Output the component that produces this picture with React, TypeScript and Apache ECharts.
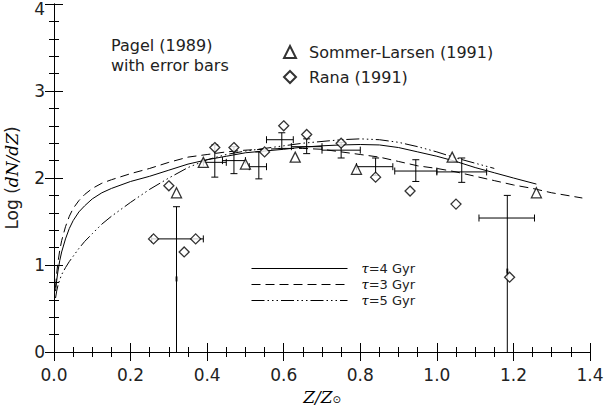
import React, { useEffect, useRef } from "react";
import * as echarts from "echarts";

// ---- data ----
const tau4X = [0.004, 0.007, 0.01, 0.015, 0.02, 0.03, 0.04, 0.05, 0.065, 0.08, 0.1, 0.125, 0.15, 0.2, 0.25, 0.3, 0.35, 0.4, 0.45, 0.5, 0.55, 0.6, 0.65, 0.7, 0.75, 0.8, 0.85, 0.9, 0.95, 1.0, 1.05, 1.1, 1.15, 1.2, 1.26];
const tau4Y = [0.7, 0.82, 0.92, 1.05, 1.15, 1.3, 1.42, 1.51, 1.61, 1.68, 1.76, 1.83, 1.88, 1.96, 2.02, 2.09, 2.16, 2.21, 2.25, 2.29, 2.31, 2.33, 2.355, 2.37, 2.38, 2.385, 2.38, 2.35, 2.3, 2.25, 2.19, 2.12, 2.06, 2.0, 1.93];

const tau3X = [0.004, 0.007, 0.01, 0.015, 0.02, 0.03, 0.04, 0.05, 0.065, 0.08, 0.1, 0.125, 0.15, 0.2, 0.25, 0.3, 0.35, 0.4, 0.45, 0.5, 0.55, 0.6, 0.65, 0.7, 0.75, 0.8, 0.85, 0.9, 0.95, 1.0, 1.05, 1.1, 1.15, 1.2, 1.25, 1.3, 1.38];
const tau3Y = [0.74, 0.9, 1.02, 1.17, 1.28, 1.44, 1.56, 1.65, 1.74, 1.81, 1.88, 1.94, 1.98, 2.05, 2.11, 2.18, 2.24, 2.27, 2.3, 2.32, 2.33, 2.34, 2.34, 2.33, 2.3, 2.27, 2.24, 2.19, 2.14, 2.11, 2.07, 2.02, 1.97, 1.92, 1.88, 1.83, 1.77];

const tau5X = [0.004, 0.007, 0.01, 0.015, 0.02, 0.03, 0.04, 0.05, 0.065, 0.08, 0.1, 0.125, 0.15, 0.2, 0.25, 0.3, 0.35, 0.4, 0.45, 0.5, 0.55, 0.6, 0.65, 0.7, 0.75, 0.8, 0.85, 0.9, 0.95, 1.0, 1.05, 1.1, 1.15];
const tau5Y = [0.62, 0.7, 0.76, 0.83, 0.89, 0.97, 1.04, 1.1, 1.19, 1.27, 1.36, 1.47, 1.56, 1.72, 1.87, 2.0, 2.12, 2.21, 2.27, 2.31, 2.34, 2.37, 2.4, 2.42, 2.44, 2.45, 2.44, 2.41, 2.36, 2.3, 2.23, 2.17, 2.11];

const sommerX = [0.32, 0.39, 0.5, 0.63, 0.79, 1.04, 1.26];
const sommerY = [1.83, 2.18, 2.16, 2.24, 2.1, 2.24, 1.83];

const ranaX = [0.26, 0.3, 0.34, 0.37, 0.42, 0.47, 0.55, 0.6, 0.66, 0.75, 0.84, 0.93, 1.05, 1.19];
const ranaY = [1.3, 1.91, 1.15, 1.3, 2.35, 2.35, 2.3, 2.6, 2.5, 2.4, 2.01, 1.85, 1.7, 0.86];

// Pagel (1989) with error bars
const pagelX = [0.32, 0.42, 0.47, 0.535, 0.595, 0.66, 0.75, 0.84, 0.945, 1.065, 1.184];
const pagelY = [1.3, 2.18, 2.2, 2.13, 2.44, 2.36, 2.32, 2.13, 2.08, 2.07, 1.54];
const pagelXLo = [0.255, 0.39, 0.44, 0.51, 0.555, 0.62, 0.7, 0.79, 0.89, 1.0, 1.11];
const pagelXHi = [0.39, 0.45, 0.5, 0.555, 0.625, 0.7, 0.8, 0.885, 1.0, 1.13, 1.255];
const pagelYLo = [0, 2.01, 2.05, 1.99, 2.34, 2.28, 2.23, 2.03, 1.96, 1.95, 0];
const pagelYHi = [1.67, 2.38, 2.36, 2.3, 2.52, 2.45, 2.41, 2.23, 2.21, 2.23, 1.8];
const pagelDotX = [0.32, 1.184];
const pagelDotY = [0.84, 0.93];

const xTicks = ["0.0", "0.2", "0.4", "0.6", "0.8", "1.0", "1.2", "1.4"];
const yTicks = ["0", "1", "2", "3", "4"];

const tauNames = ["τ=4 Gyr", "τ=3 Gyr", "τ=5 Gyr"];
const pointNames = ["Sommer-Larsen (1991)", "Rana (1991)"];

const FONT = "DejaVu Sans";

const zip = (xs: number[], ys: number[]) => xs.map((x, i) => [x, ys[i]]);

export default function App() {
  const ref = useRef<HTMLDivElement>(null);
  useEffect(() => {
    document.body.style.margin = "0";
    const chart = echarts.init(ref.current!, null, { renderer: "svg" });

    const errData = pagelX.map((x, i) => [x, pagelY[i], pagelXLo[i], pagelXHi[i], pagelYLo[i], pagelYHi[i]]);

    const axisCommon = {
      axisLine: { show: true, lineStyle: { color: "#000", width: 1 } },
      splitLine: { show: false },
    };
    const tick = { show: true, inside: true, length: 9, lineStyle: { color: "#000", width: 1 } };

    const option: any = {
      animation: false,
      backgroundColor: "#fff",
      grid: { left: 54, right: 14, top: 4, bottom: 59, containLabel: false, outerBoundsMode: "none" },
      xAxis: [
        {
          ...axisCommon,
          type: "value",
          min: 0,
          max: 1.4,
          interval: 0.2,
          position: "bottom",
          axisTick: tick,
          minorTick: { show: true, splitNumber: 4, length: 5, lineStyle: { color: "#000", width: 1 } },
          axisLabel: {
            margin: 14,
            fontSize: 17,
            fontFamily: FONT,
            color: "#222",
            formatter: (v: number) => xTicks[Math.round(v / 0.2)] ?? "",
          },
          name: "{i|Z/Z}{s|⊙}",
          nameLocation: "middle",
          nameGap: 36,
          nameTextStyle: {
            rich: {
              i: { fontFamily: "DejaVu Serif", fontStyle: "italic", fontSize: 17, color: "#000" },
              s: { fontFamily: "DejaVu Sans", fontSize: 10, color: "#000", padding: [6, 0, 0, 0] },
            },
          },
        },
        {
          ...axisCommon,
          type: "value",
          min: 0,
          max: 1.4,
          interval: 0.2,
          position: "top",
          axisTick: tick,
          minorTick: { show: true, splitNumber: 4, length: 5, lineStyle: { color: "#000", width: 1 } },
          axisLabel: { show: false },
        },
      ],
      yAxis: [
        {
          ...axisCommon,
          type: "value",
          min: 0,
          max: 4,
          interval: 1,
          position: "left",
          axisTick: tick,
          minorTick: { show: true, splitNumber: 5, length: 5, lineStyle: { color: "#000", width: 1 } },
          axisLabel: {
            margin: 9,
            fontSize: 17,
            fontFamily: FONT,
            color: "#222",
            formatter: (v: number) => {
              const i = Math.round(v);
              return i === 4 ? `{t|${yTicks[i]}}` : yTicks[i] ?? "";
            },
            rich: {
              t: { fontSize: 17, fontFamily: FONT, color: "#222", padding: [10, 0, 0, 0] },
            },
          },
          name: "Log ({i|dN/dZ})",
          nameLocation: "middle",
          nameGap: 34,
          nameRotate: 90,
          nameTextStyle: {
            fontFamily: FONT,
            fontSize: 17,
            color: "#222",
            rich: {
              i: { fontFamily: "DejaVu Serif", fontStyle: "italic", fontSize: 17, color: "#000" },
            },
          },
        },
        {
          ...axisCommon,
          type: "value",
          min: 0,
          max: 4,
          interval: 1,
          position: "right",
          axisTick: tick,
          minorTick: { show: true, splitNumber: 5, length: 5, lineStyle: { color: "#000", width: 1 } },
          axisLabel: { show: false },
        },
      ],
      legend: [
        {
          data: pointNames,
          orient: "vertical",
          left: 278,
          top: 39,
          itemWidth: 12,
          itemHeight: 12,
          itemGap: 9,
          selectedMode: false,
          textStyle: { fontSize: 16, fontFamily: FONT, color: "#222", padding: [0, 0, 0, 8] },
        },
        {
          data: tauNames,
          orient: "vertical",
          left: 246,
          top: 257,
          itemWidth: 96,
          itemHeight: 14,
          itemGap: 3,
          selectedMode: false,
          itemStyle: { opacity: 0 },
          lineStyle: { width: 1, color: "#000" },
          formatter: (n: string) => `{t|τ}{n|${n.slice(1)}}`,
          textStyle: {
            fontSize: 13,
            fontFamily: FONT,
            color: "#222",
            padding: [0, 0, 0, 9],
            rich: {
              t: { fontFamily: "DejaVu Serif", fontStyle: "italic", fontSize: 13, color: "#000" },
              n: { fontFamily: FONT, fontSize: 13, color: "#222" },
            },
          },
        },
      ],
      graphic: [
        {
          type: "text",
          left: 111,
          top: 35,
          style: {
            text: "Pagel (1989)\nwith error bars",
            fontFamily: FONT,
            fontSize: 16,
            lineHeight: 20,
            fill: "#222",
          },
        },
      ],
      series: [
        {
          name: tauNames[0],
          type: "line",
          xAxisIndex: 0,
          yAxisIndex: 0,
          data: zip(tau4X, tau4Y),
          symbol: "none",
          smooth: false,
          itemStyle: { color: "#000" },
          lineStyle: { color: "#000", width: 1, type: "solid" },
        },
        {
          name: tauNames[1],
          type: "line",
          xAxisIndex: 0,
          yAxisIndex: 0,
          data: zip(tau3X, tau3Y),
          symbol: "none",
          smooth: false,
          itemStyle: { color: "#000" },
          lineStyle: { color: "#000", width: 1, type: [9, 5] },
        },
        {
          name: tauNames[2],
          type: "line",
          xAxisIndex: 0,
          yAxisIndex: 0,
          data: zip(tau5X, tau5Y),
          symbol: "none",
          smooth: false,
          itemStyle: { color: "#000" },
          lineStyle: { color: "#000", width: 1, type: [13, 3, 1.5, 3, 1.5, 3, 1.5, 3] },
        },
        {
          name: "Pagel (1989)",
          type: "custom",
          xAxisIndex: 0,
          yAxisIndex: 0,
          data: errData,
          encode: { x: [0, 2, 3], y: [1, 4, 5] },
          renderItem: (params: any, api: any) => {
            const x = api.value(0), y = api.value(1);
            const xlo = api.value(2), xhi = api.value(3);
            const ylo = api.value(4), yhi = api.value(5);
            const pL = api.coord([xlo, y]);
            const pR = api.coord([xhi, y]);
            const pB = api.coord([x, ylo]);
            const pT = api.coord([x, yhi]);
            const c = 3.5;
            const st = { stroke: "#000", lineWidth: 1, fill: "none" };
            const children: any[] = [
              { type: "line", shape: { x1: pL[0], y1: pL[1], x2: pR[0], y2: pR[1] }, style: st },
              { type: "line", shape: { x1: pB[0], y1: pB[1], x2: pT[0], y2: pT[1] }, style: st },
              { type: "line", shape: { x1: pL[0], y1: pL[1] - c, x2: pL[0], y2: pL[1] + c }, style: st },
              { type: "line", shape: { x1: pR[0], y1: pR[1] - c, x2: pR[0], y2: pR[1] + c }, style: st },
              { type: "line", shape: { x1: pT[0] - c, y1: pT[1], x2: pT[0] + c, y2: pT[1] }, style: st },
            ];
            if (ylo > 0) {
              children.push({ type: "line", shape: { x1: pB[0] - c, y1: pB[1], x2: pB[0] + c, y2: pB[1] }, style: st });
            }
            return { type: "group", children };
          },
        },
        {
          name: "Pagel dots",
          type: "scatter",
          xAxisIndex: 0,
          yAxisIndex: 0,
          data: zip(pagelDotX, pagelDotY),
          symbol: "rect",
          symbolSize: [2, 5],
          itemStyle: { color: "#000" },
        },
        {
          name: pointNames[0],
          type: "scatter",
          xAxisIndex: 0,
          yAxisIndex: 0,
          data: zip(sommerX, sommerY),
          symbol: "triangle",
          symbolSize: 10,
          itemStyle: { color: "#fff", borderColor: "#000", borderWidth: 1.3 },
          z: 5,
        },
        {
          name: pointNames[1],
          type: "scatter",
          xAxisIndex: 0,
          yAxisIndex: 0,
          data: zip(ranaX, ranaY),
          symbol: "diamond",
          symbolSize: 10,
          itemStyle: { color: "#fff", borderColor: "#000", borderWidth: 1.3 },
          z: 5,
        },
      ],
    };
    chart.setOption(option);
    return () => chart.dispose();
  }, []);
  return <div ref={ref} style={{ width: 604, height: 411 }} />;
}
